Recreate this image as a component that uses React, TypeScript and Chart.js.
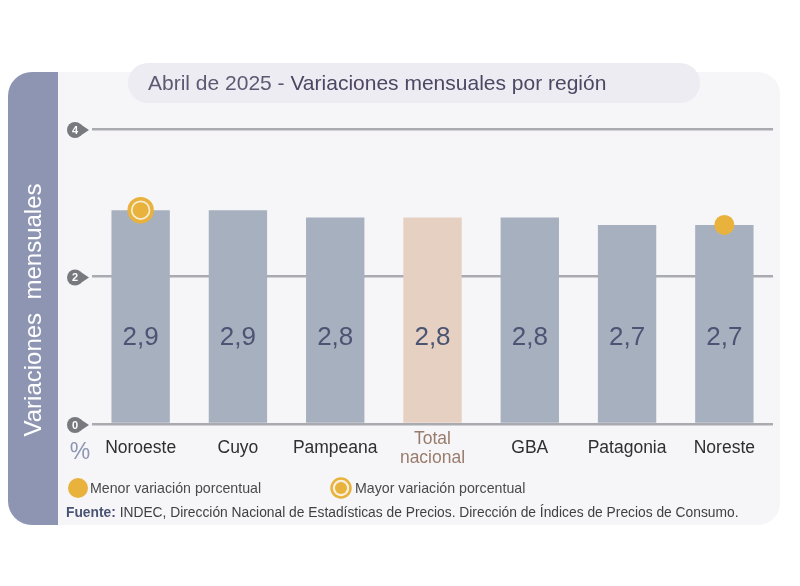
import React, { useEffect, useRef } from "react";
import { Chart, registerables } from "chart.js";

Chart.register(...registerables);

const categories = ["Noroeste", "Cuyo", "Pampeana", "Total nacional", "GBA", "Patagonia", "Noreste"];
const values = [2.9, 2.9, 2.8, 2.8, 2.8, 2.7, 2.7];
const menorPoints = [null, null, null, null, null, null, 2.7];
const mayorPoints = [2.9, null, null, null, null, null, null];
const yTicks = [0, 2, 4];
const highlightIndex = 3;

const FONT = '"Liberation Sans", Arial, Helvetica, sans-serif';
const GOLD = "#e8b23c";
const BAR = "#a7b0bf";
const BAR_HL = "#e6d0c2";
const SIDEBAR = "#8d95b2";
const PANEL = "#f6f6f9";

function roundRect(ctx: CanvasRenderingContext2D, x: number, y: number, w: number, h: number, r: number[]) {
  ctx.beginPath();
  (ctx as any).roundRect(x, y, w, h, r);
  ctx.closePath();
}

const decorPlugin = {
  id: "decor",
  beforeDraw(chart: any) {
    const ctx: CanvasRenderingContext2D = chart.ctx;
    ctx.save();
    ctx.fillStyle = "#ffffff";
    ctx.fillRect(0, 0, chart.width, chart.height);
    // panel
    ctx.fillStyle = PANEL;
    roundRect(ctx, 8, 72, 772, 453, [24, 22, 22, 24]);
    ctx.fill();
    // sidebar
    ctx.fillStyle = SIDEBAR;
    roundRect(ctx, 8, 72, 50, 453, [24, 0, 0, 24]);
    ctx.fill();
    // title pill
    ctx.fillStyle = "#ececf2";
    roundRect(ctx, 128, 63, 572, 40, [20, 20, 20, 20]);
    ctx.fill();
    ctx.textBaseline = "middle";
    ctx.textAlign = "left";
    ctx.font = `21px ${FONT}`;
    ctx.fillStyle = "#5e5872";
    const p1 = "Abril de 2025 - ";
    ctx.fillText(p1, 148, 84);
    const w1 = ctx.measureText(p1).width;
    ctx.fillStyle = "#4d4763";
    ctx.fillText("Variaciones mensuales por región", 148 + w1, 84);

    // y axis title
    ctx.save();
    ctx.translate(34, 310);
    ctx.rotate(-Math.PI / 2);
    ctx.textAlign = "center";
    ctx.fillStyle = "#ffffff";
    ctx.font = `24px ${FONT}`;
    ctx.fillText("Variaciones  mensuales", 0, 0);
    ctx.restore();

    // percent sign
    ctx.fillStyle = SIDEBAR;
    ctx.font = `23px ${FONT}`;
    ctx.textAlign = "center";
    ctx.fillText("%", 80, 453);

    // legend
    ctx.textAlign = "left";
    ctx.fillStyle = GOLD;
    ctx.beginPath();
    ctx.arc(78, 488, 10, 0, Math.PI * 2);
    ctx.fill();
    ctx.fillStyle = "#4a4a4a";
    ctx.font = `14.2px ${FONT}`;
    ctx.fillText("Menor variación porcentual", 90, 489);

    ctx.strokeStyle = GOLD;
    ctx.lineWidth = 2.5;
    ctx.fillStyle = "#f8f0dc";
    ctx.beginPath();
    ctx.arc(341, 488, 9.5, 0, Math.PI * 2);
    ctx.fill();
    ctx.stroke();
    ctx.fillStyle = GOLD;
    ctx.beginPath();
    ctx.arc(341, 488, 6, 0, Math.PI * 2);
    ctx.fill();
    ctx.fillStyle = "#4a4a4a";
    ctx.fillText("Mayor variación porcentual", 355, 489);

    // source
    ctx.font = `bold 13.8px ${FONT}`;
    ctx.fillStyle = "#4b5374";
    const f = "Fuente:";
    ctx.fillText(f, 66, 513);
    const fw = ctx.measureText(f + " ").width;
    ctx.font = `13.8px ${FONT}`;
    ctx.fillStyle = "#3f3f44";
    ctx.fillText(
      "INDEC, Dirección Nacional de Estadísticas de Precios. Dirección de Índices de Precios de Consumo.",
      66 + fw,
      513
    );
    ctx.restore();
  },
  afterDatasetsDraw(chart: any) {
    const ctx: CanvasRenderingContext2D = chart.ctx;
    const xs = chart.scales.x;
    const ys = chart.scales.y;
    ctx.save();
    // tick bubbles
    yTicks.forEach((v) => {
      const y = ys.getPixelForValue(v);
      ctx.fillStyle = "#78787f";
      ctx.beginPath();
      ctx.arc(75, y + 1, 8, 0, Math.PI * 2);
      ctx.fill();
      ctx.beginPath();
      ctx.moveTo(80, y + 1 - 6);
      ctx.lineTo(89, y + 1);
      ctx.lineTo(80, y + 1 + 6);
      ctx.closePath();
      ctx.fill();
      ctx.fillStyle = "#ffffff";
      ctx.font = `bold 11px ${FONT}`;
      ctx.textAlign = "center";
      ctx.textBaseline = "middle";
      ctx.fillText(String(v), 75, y + 1.5);
    });
    // value labels and category labels
    const labelY = ys.getPixelForValue(1.17);
    categories.forEach((c, i) => {
      const x = xs.getPixelForValue(i);
      ctx.textAlign = "center";
      ctx.textBaseline = "middle";
      ctx.font = `26px ${FONT}`;
      ctx.fillStyle = "#4b5473";
      ctx.fillText(values[i].toFixed(1).replace(".", ","), x, labelY);
      ctx.font = `17.5px ${FONT}`;
      if (i === highlightIndex) {
        ctx.fillStyle = "#9a7c6c";
        const parts = c.split(" ");
        ctx.fillText(parts[0], x, 439);
        ctx.fillText(parts[1], x, 458);
      } else {
        ctx.fillStyle = "#2e2e33";
        ctx.fillText(c, x, 448);
      }
    });
    ctx.restore();
  },
};

export default function App() {
  const ref = useRef<HTMLCanvasElement | null>(null);
  useEffect(() => {
    document.body.style.margin = "0";
    const canvas = ref.current!;
    const chart = new Chart(canvas, {
      type: "bar",
      data: {
        labels: categories,
        datasets: [
          {
            type: "line" as any,
            label: "Mayor dot",
            data: mayorPoints as any,
            showLine: false,
            pointRadius: 8,
            pointBorderWidth: 0,
            pointBackgroundColor: GOLD,
            order: 0,
          },
          {
            type: "line" as any,
            label: "Mayor ring",
            data: mayorPoints as any,
            showLine: false,
            pointRadius: 11.5,
            pointBorderWidth: 3.5,
            pointBorderColor: GOLD,
            pointBackgroundColor: "#f6eed8",
            order: 1,
          },
          {
            type: "line" as any,
            label: "Menor",
            data: menorPoints as any,
            showLine: false,
            pointRadius: 10,
            pointBorderWidth: 0,
            pointBackgroundColor: GOLD,
            order: 1,
          },
          {
            label: "Variación",
            data: values,
            backgroundColor: values.map((_, i) => (i === highlightIndex ? BAR_HL : BAR)),
            barPercentage: 0.6,
            categoryPercentage: 1,
            order: 3,
          },
        ],
      },
      options: {
        responsive: false,
        animation: false,
        events: [],
        layout: { padding: { left: 92, right: 27, top: 129, bottom: 162 } },
        plugins: {
          legend: { display: false },
          tooltip: { enabled: false },
          title: { display: false },
        },
        scales: {
          x: { display: false, offset: true },
          y: {
            min: 0,
            max: 4,
            ticks: { display: false, stepSize: 2 },
            border: { display: false },
            grid: { color: "#aaaab1", lineWidth: 2.5, drawTicks: false },
            afterFit: (s: any) => {
              s.width = 0;
            },
          },
        },
      },
      plugins: [decorPlugin],
    });
    return () => chart.destroy();
  }, []);
  return (
    <div style={{ position: "absolute", left: 0, top: 0, width: 800, height: 586 }}>
      <canvas ref={ref} width={800} height={586} style={{ display: "block" }} />
    </div>
  );
}
